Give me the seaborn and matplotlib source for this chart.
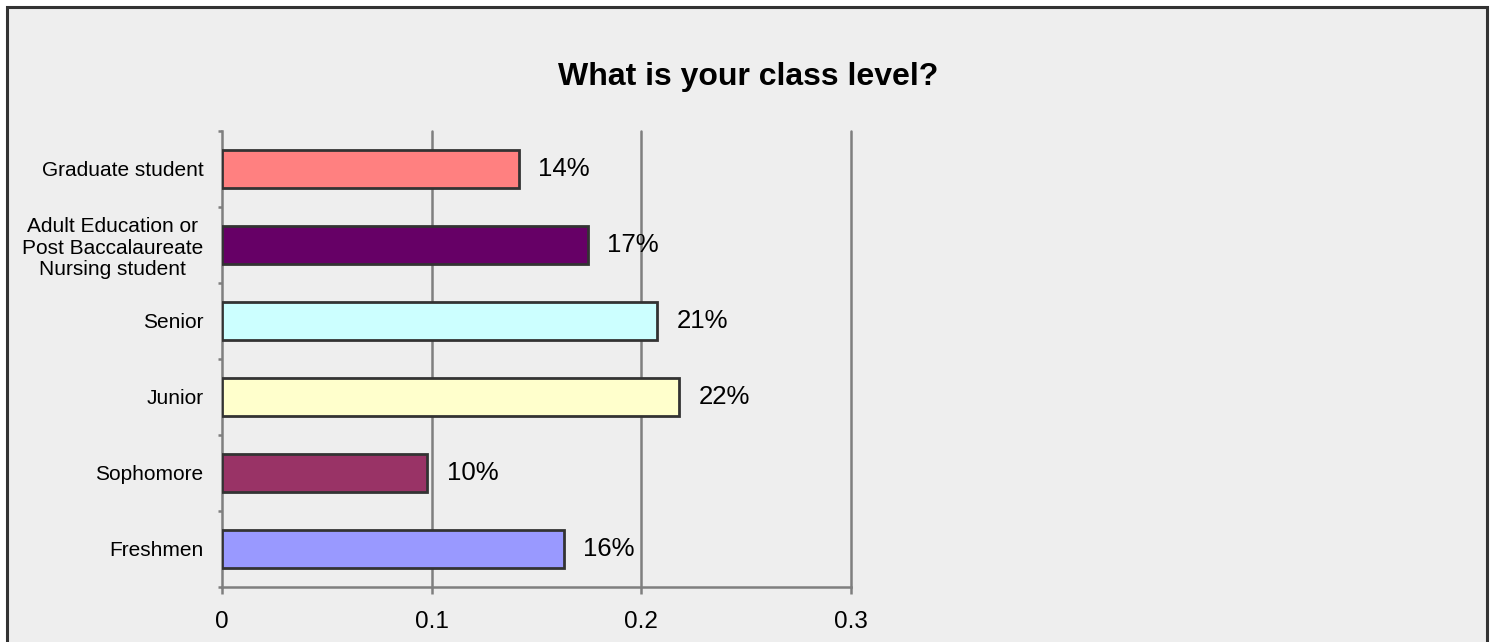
import matplotlib
matplotlib.use('Agg')
import matplotlib.pyplot as plt
import matplotlib.patches as mpatches
from matplotlib.ticker import FixedLocator
import seaborn as sns

# Data (top to bottom)
categories = [
    "Graduate student",
    "Adult Education or\nPost Baccalaureate\nNursing student",
    "Senior",
    "Junior",
    "Sophomore",
    "Freshmen",
]
shares = [0.1416, 0.1745, 0.2074, 0.218, 0.098, 0.163]
share_labels = ["14%", "17%", "21%", "22%", "10%", "16%"]
bar_colors = ["#FF8080", "#660066", "#CCFFFF", "#FFFFCC", "#993366", "#9999FF"]
x_ticks = [0, 0.1, 0.2, 0.3]
x_tick_labels = ["0", "0.1", "0.2", "0.3"]

sns.set_theme(style="white")
plt.rcParams['font.family'] = ['Liberation Sans', 'DejaVu Sans']

W, H = 1497, 642
fig = plt.figure(figsize=(W / 100, H / 100), dpi=100)
fig.patch.set_facecolor("white")

# outer chart frame (bottom edge falls outside the image)
frame = mpatches.Rectangle(
    (6.5 / W, -0.05), (1487 - 6.5) / W, (H - 6.5) / H + 0.05,
    transform=fig.transFigure, facecolor="#EEEEEE", edgecolor="#333333",
    linewidth=2.2, clip_on=False, zorder=-10,
)
fig.patches.append(frame)

ax = fig.add_axes([222 / W, 1 - 587 / H, (851 - 222) / W, (587 - 131) / H])
ax.set_facecolor("none")
ax.set_zorder(2)

sns.barplot(
    x=shares, y=categories, hue=categories, palette=bar_colors, legend=False,
    orient="h", width=0.5, saturation=1, edgecolor="#333333", linewidth=2.0,
    ax=ax, zorder=3,
)

for container, lab in zip(ax.containers, share_labels):
    ax.bar_label(container, labels=[lab], padding=14, fontsize=18.5, color="black")

ax.set_xlim(0, 0.3)
ax.set_ylim(5.5, -0.5)
ax.set_xticks(x_ticks)
ax.set_xticklabels(x_tick_labels, fontsize=17.5)
ax.set_xlabel("")
ax.set_ylabel("")

# vertical gridlines
for xv in x_ticks[1:]:
    ax.axvline(xv, color="#7F7F7F", linewidth=1.8, zorder=1, clip_on=False)

for side in ["top", "right"]:
    ax.spines[side].set_visible(False)
for side in ["left", "bottom"]:
    ax.spines[side].set_color("#7F7F7F")
    ax.spines[side].set_linewidth(1.8)

ax.tick_params(axis="x", direction="out", length=5, width=1.8, color="#7F7F7F",
               pad=12, bottom=True, labelcolor="black")
ax.tick_params(axis="y", which="major", length=0, pad=13.5, labelsize=15,
               labelcolor="black")
ax.yaxis.set_minor_locator(FixedLocator([i - 0.5 for i in range(len(categories) + 1)]))
ax.tick_params(axis="y", which="minor", direction="out", length=3, width=1.8,
               color="#7F7F7F", left=True)
for t in ax.get_yticklabels():
    t.set_multialignment("center")
    t.set_linespacing(1.15)

fig.text(0.5, 1 - 77 / H, "What is your class level?", ha="center", va="center",
         fontsize=23, fontweight="bold", color="black", zorder=3)

fig.savefig("out.png", dpi=100, facecolor=fig.get_facecolor())
